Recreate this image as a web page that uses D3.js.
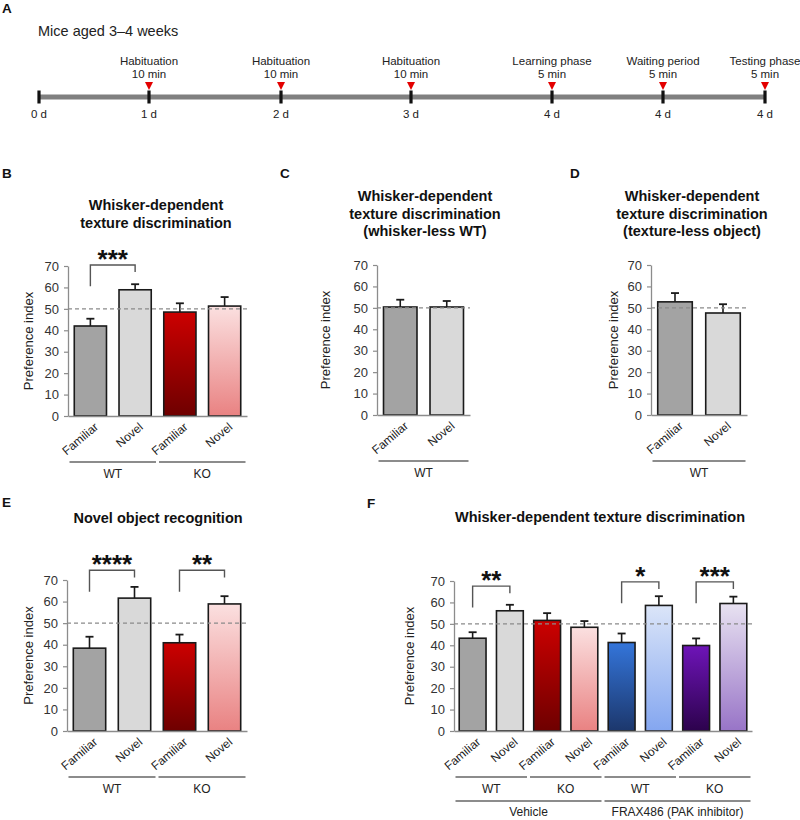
<!DOCTYPE html>
<html><head><meta charset="utf-8">
<script src="https://cdn.jsdelivr.net/npm/d3@7"></script>
<style>
body{margin:0;background:#fff}
svg{display:block;font-family:"Liberation Sans",Arial,Helvetica,sans-serif}
</style>
</head><body>
<svg id="fig" width="800" height="820"></svg>
<script>
// ================= DATA =================
// Panel A timeline
const timelineDays = ["0 d", "1 d", "2 d", "3 d", "4 d", "4 d", "4 d"];
const timelineEvents = ["", "Habituation", "Habituation", "Habituation", "Learning phase", "Waiting period", "Testing phase"];
const timelineDurations = ["", "10 min", "10 min", "10 min", "5 min", "5 min", "5 min"];

const yTicks = [0, 10, 20, 30, 40, 50, 60, 70];
const chanceLevel = 50;

// Panel B
const categoriesB = ["Familiar", "Novel", "Familiar", "Novel"];
const groupsB = [{label: "WT", from: 0, to: 1}, {label: "KO", from: 2, to: 3}];
const valuesB = [42.0, 58.9, 48.5, 51.3];
const errorsB = [3.4, 2.6, 4.1, 4.2];
const sigB = [{from: 0, to: 1, label: "***", level: 70.5}];

// Panel C
const categoriesC = ["Familiar", "Novel"];
const groupsC = [{label: "WT", from: 0, to: 1}];
const valuesC = [50.4, 50.4];
const errorsC = [3.4, 2.8];

// Panel D
const categoriesD = ["Familiar", "Novel"];
const groupsD = [{label: "WT", from: 0, to: 1}];
const valuesD = [52.8, 47.6];
const errorsD = [4.1, 4.1];

// Panel E
const categoriesE = ["Familiar", "Novel", "Familiar", "Novel"];
const groupsE = [{label: "WT", from: 0, to: 1}, {label: "KO", from: 2, to: 3}];
const valuesE = [38.4, 61.6, 40.9, 58.9];
const errorsE = [5.3, 5.2, 3.8, 3.6];
const sigE = [{from: 0, to: 1, label: "****", level: 74.5}, {from: 2, to: 3, label: "**", level: 74.5}];

// Panel F
const categoriesF = ["Familiar", "Novel", "Familiar", "Novel", "Familiar", "Novel", "Familiar", "Novel"];
const groupsF = [{label: "WT", from: 0, to: 1}, {label: "KO", from: 2, to: 3}, {label: "WT", from: 4, to: 5}, {label: "KO", from: 6, to: 7}];
const treatmentsF = [{label: "Vehicle", from: 0, to: 3}, {label: "FRAX486 (PAK inhibitor)", from: 4, to: 7}];
const valuesF = [43.3, 56.1, 51.6, 48.4, 41.3, 58.6, 39.9, 59.5];
const errorsF = [2.8, 2.8, 3.4, 2.9, 4.2, 4.3, 3.3, 3.2];
const sigF = [{from: 0, to: 1, label: "**", level: 67.6}, {from: 4, to: 5, label: "*", level: 69.6}, {from: 6, to: 7, label: "***", level: 69.6}];

// ================= STYLE =================
const fills = {
  greyFam: ["#a3a3a3", "#a3a3a3"],
  greyNov: ["#d9d9d9", "#d9d9d9"],
  redFam: ["#cc0000", "#6e0000"],
  redNov: ["#fbe0e0", "#e98282"],
  blueFam: ["#3475da", "#1c376c"],
  blueNov: ["#dbe5f8", "#84a6f0"],
  purpFam: ["#6e14b8", "#2c024c"],
  purpNov: ["#e8e2f1", "#9874c7"]
};
const fillsB = ["greyFam", "greyNov", "redFam", "redNov"];
const fillsC = ["greyFam", "greyNov"];
const fillsE = ["greyFam", "greyNov", "redFam", "redNov"];
const fillsF = ["greyFam", "greyNov", "redFam", "redNov", "blueFam", "blueNov", "purpFam", "purpNov"];

const svg = d3.select("#fig");
const defs = svg.append("defs");
Object.entries(fills).forEach(([k, c]) => {
  const lg = defs.append("linearGradient").attr("id", "g-" + k)
    .attr("x1", 0).attr("y1", 0).attr("x2", 0).attr("y2", 1);
  lg.append("stop").attr("offset", "0%").attr("stop-color", c[0]);
  lg.append("stop").attr("offset", "100%").attr("stop-color", c[1]);
});

const AX = "#8c8c8c", TXT = "#222";

function panelLetter(t, x, y) {
  svg.append("text").attr("x", x).attr("y", y).attr("font-size", 13.5)
    .attr("font-weight", "bold").attr("fill", "#111").text(t);
}

// ================= PANEL A =================
(function () {
  panelLetter("A", 2, 13);
  svg.append("text").attr("x", 38).attr("y", 36).attr("font-size", 14.5)
    .attr("fill", TXT).text("Mice aged 3\u20134 weeks");
  const idx = d3.range(timelineDays.length);
  const tx = d3.scaleOrdinal().domain(idx).range([39, 149, 281, 411, 552, 663, 765]);
  const lineY = 97;
  svg.append("line").attr("x1", tx(0)).attr("x2", tx(idx.length - 1))
    .attr("y1", lineY).attr("y2", lineY).attr("stroke", "#808080").attr("stroke-width", 5);
  const g = svg.append("g");
  const ev = g.selectAll("g.ev").data(idx).join("g").attr("class", "ev")
    .attr("transform", i => `translate(${tx(i)},0)`);
  ev.append("rect").attr("x", -1.6).attr("y", lineY - 6.5).attr("width", 3.2).attr("height", 13).attr("fill", "#111");
  ev.append("text").attr("y", lineY + 21).attr("text-anchor", "middle").attr("font-size", 11.5)
    .attr("fill", TXT).text(i => timelineDays[i]);
  const evt = ev.filter(i => timelineEvents[i] !== "");
  evt.append("path").attr("d", `M-4,${lineY - 15}L4,${lineY - 15}L0,${lineY - 7}Z`).attr("fill", "#e30000");
  evt.append("text").attr("y", 65).attr("text-anchor", "middle").attr("font-size", 11.5)
    .attr("fill", TXT).text(i => timelineEvents[i]);
  evt.append("text").attr("y", 78).attr("text-anchor", "middle").attr("font-size", 11.5)
    .attr("fill", TXT).text(i => timelineDurations[i]);
})();

// ================= BAR PANELS =================
function barPanel(o) {
  const g = svg.append("g");
  const n = o.values.length;
  const y = d3.scaleLinear().domain([0, 70]).range([o.yBot, o.yTop]);
  const x = d3.scaleBand().domain(d3.range(n)).range([o.axisX, o.axisEnd])
    .paddingInner(0.28).paddingOuter(0.14);
  const bw = x.bandwidth(), step = x.step();

  // title
  o.title.forEach((t, i) => {
    g.append("text").attr("x", o.titleX).attr("y", o.titleY + i * 17.5)
      .attr("text-anchor", "middle").attr("font-size", 14.5).attr("font-weight", "bold")
      .attr("fill", "#111").text(t);
  });

  // y axis
  const ya = g.append("g").attr("transform", `translate(${o.axisX},0)`)
    .call(d3.axisLeft(y).tickValues(yTicks).tickSize(4).tickSizeOuter(0).tickPadding(5));
  ya.select(".domain").attr("stroke", AX).attr("stroke-width", 1.3);
  ya.selectAll(".tick line").attr("stroke", AX).attr("stroke-width", 1.2);
  ya.selectAll(".tick text").attr("font-size", 13).attr("fill", "#333")
    .attr("font-family", "Liberation Sans, Arial, sans-serif");

  g.append("text").attr("transform", `translate(${o.ylabelX},${(o.yTop + o.yBot) / 2}) rotate(-90)`)
    .attr("text-anchor", "middle").attr("dy", "0.35em").attr("font-size", 13)
    .attr("fill", TXT).text("Preference index");

  // bars
  g.selectAll("rect.bar").data(o.values).join("rect").attr("class", "bar")
    .attr("x", (d, i) => x(i)).attr("width", bw)
    .attr("y", d => y(d)).attr("height", d => y(0) - y(d))
    .attr("fill", (d, i) => `url(#g-${o.fills[i]})`)
    .attr("stroke", "#1a1a1a").attr("stroke-width", 1.6);

  // error bars
  const eb = g.selectAll("g.eb").data(o.values).join("g").attr("class", "eb")
    .attr("transform", (d, i) => `translate(${x(i) + bw / 2},0)`);
  eb.append("line").attr("y1", d => y(d)).attr("y2", (d, i) => y(d + o.errors[i]))
    .attr("stroke", "#1a1a1a").attr("stroke-width", 1.6);
  eb.append("line").attr("x1", -4).attr("x2", 4)
    .attr("y1", (d, i) => y(d + o.errors[i])).attr("y2", (d, i) => y(d + o.errors[i]))
    .attr("stroke", "#1a1a1a").attr("stroke-width", 1.8);

  // x axis
  const xa = g.append("g").attr("transform", `translate(0,${o.yBot})`)
    .call(d3.axisBottom(x).tickSize(0).tickSizeOuter(0).tickFormat(i => o.cats[i]));
  xa.select(".domain").attr("stroke", AX).attr("stroke-width", 1.3);
  xa.selectAll(".tick text").attr("font-size", 12).attr("fill", TXT)
    .attr("font-family", "Liberation Sans, Arial, sans-serif")
    .attr("text-anchor", "end").attr("x", 0).attr("y", 0).attr("dy", "0.35em")
    .attr("transform", "translate(6,9) rotate(-40)");

  // chance line
  g.append("line").attr("x1", o.axisX).attr("x2", o.axisEnd)
    .attr("y1", y(chanceLevel)).attr("y2", y(chanceLevel))
    .attr("stroke", "#8a8a8a").attr("stroke-width", 1.3).attr("stroke-dasharray", "4,3");

  // significance
  (o.sig || []).forEach(s => {
    const x1 = x(s.from) + bw / 2, x2 = x(s.to) + bw / 2;
    const yt = y(s.level);
    g.append("path")
      .attr("d", `M${x1},${y(s.level - 10)}V${yt}H${x2}V${y(s.level - 3.3)}`)
      .attr("fill", "none").attr("stroke", "#555").attr("stroke-width", 1.4);
    g.append("text").attr("x", (x1 + x2) / 2).attr("y", yt + 3)
      .attr("text-anchor", "middle").attr("font-size", 26).attr("font-weight", "bold")
      .attr("fill", "#111").text(s.label);
  });

  // groups
  const gy = o.yBot + 46;
  const pad = (step - bw) / 2 - 1.5;
  o.groups.forEach(gr => {
    g.append("line").attr("x1", x(gr.from) - pad).attr("x2", x(gr.to) + bw + pad)
      .attr("y1", gy).attr("y2", gy).attr("stroke", AX).attr("stroke-width", 2);
    g.append("text").attr("x", (x(gr.from) + x(gr.to) + bw) / 2).attr("y", gy + 16)
      .attr("text-anchor", "middle").attr("font-size", 12).attr("fill", TXT).text(gr.label);
  });
  (o.level2 || []).forEach(gr => {
    g.append("line").attr("x1", x(gr.from) - pad).attr("x2", x(gr.to) + bw + pad)
      .attr("y1", gy + 24).attr("y2", gy + 24).attr("stroke", AX).attr("stroke-width", 2);
    g.append("text").attr("x", (x(gr.from) + x(gr.to) + bw) / 2).attr("y", gy + 39)
      .attr("text-anchor", "middle").attr("font-size", 12).attr("fill", TXT).text(gr.label);
  });
}

panelLetter("B", 2, 178);
barPanel({axisX: 68, axisEnd: 247, yTop: 266, yBot: 416,
  values: valuesB, errors: errorsB, cats: categoriesB, fills: fillsB, groups: groupsB, sig: sigB,
  title: ["Whisker-dependent", "texture discrimination"], titleX: 156, titleY: 210, ylabelX: 28});

panelLetter("C", 280, 178);
barPanel({axisX: 377, axisEnd: 470, yTop: 265, yBot: 415,
  values: valuesC, errors: errorsC, cats: categoriesC, fills: fillsC, groups: groupsC,
  title: ["Whisker-dependent", "texture discrimination", "(whisker-less WT)"], titleX: 425, titleY: 201, ylabelX: 325});

panelLetter("D", 570, 178);
barPanel({axisX: 651, axisEnd: 747, yTop: 265, yBot: 415,
  values: valuesD, errors: errorsD, cats: categoriesD, fills: fillsC, groups: groupsD,
  title: ["Whisker-dependent", "texture discrimination", "(texture-less object)"], titleX: 692, titleY: 201, ylabelX: 613});

panelLetter("E", 2, 507);
barPanel({axisX: 67, axisEnd: 247, yTop: 580, yBot: 731,
  values: valuesE, errors: errorsE, cats: categoriesE, fills: fillsE, groups: groupsE, sig: sigE,
  title: ["Novel object recognition"], titleX: 158, titleY: 523, ylabelX: 28});

panelLetter("F", 367, 508);
barPanel({axisX: 454, axisEnd: 752, yTop: 581, yBot: 731,
  values: valuesF, errors: errorsF, cats: categoriesF, fills: fillsF, groups: groupsF, level2: treatmentsF, sig: sigF,
  title: ["Whisker-dependent texture discrimination"], titleX: 600, titleY: 522, ylabelX: 409});
</script>
</body></html>
